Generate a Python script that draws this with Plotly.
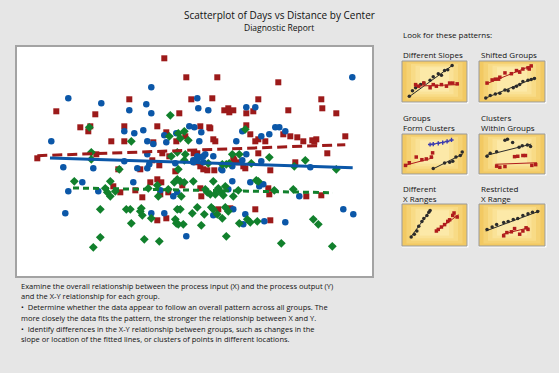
import plotly.graph_objects as go

W, H = 559, 373

# ---------------- main scatter data (Distance, Days) ----------------
blue_x = [33.53, 13.43, 5.13, 8.43, 12.93, 11.23, 13.43, 10.73, 11.73, 12.63, 17.23, 17.73, 14.73, 15.93,
          3.43, 13.03, 13.63, 14.93, 13.03, 4.63, 7.63, 10.73, 12.03, 13.03, 13.23, 15.83, 17.63, 6.53,
          5.13, 8.13, 11.63, 14.33, 15.63, 16.03, 4.83, 13.43, 14.73, 16.13, 16.93, 18.03, 18.13, 19.13,
          22.93, 23.83, 18.43, 22.53, 25.83, 26.23, 26.83, 24.43, 25.23, 21.93, 18.23, 22.93, 18.03, 18.63,
          18.83, 18.43, 19.63, 18.03, 18.63, 17.63, 20.43, 20.53, 21.53, 22.53, 24.43, 29.33, 21.53, 23.33,
          24.23, 24.63, 28.23, 21.13, 19.63, 21.63, 22.83, 22.63, 24.73, 26.83, 32.63, 33.63]
blue_y = [19.87, 18.87, 17.77, 17.27, 17.17, 16.57, 16.27, 14.47, 14.27, 14.57, 14.97, 14.87, 14.07, 14.27,
          13.47, 13.47, 13.20, 13.37, 12.17, 10.87, 10.77, 11.47, 10.77, 10.77, 11.17, 11.27, 11.37, 9.37,
          8.47, 8.47, 9.37, 8.57, 7.97, 8.37, 6.27, 6.27, 6.27, 6.67, 3.97, 17.77, 16.77, 16.57,
          16.87, 16.87, 14.37, 14.47, 14.87, 14.87, 14.47, 13.97, 14.17, 13.47, 13.47, 12.17, 11.97, 11.97,
          12.17, 11.87, 11.97, 11.67, 11.37, 11.57, 10.67, 10.57, 10.97, 11.57, 11.47, 10.87, 9.47, 9.37,
          8.97, 9.17, 7.97, 8.67, 6.07, 6.67, 6.17, 5.17, 5.47, 5.37, 6.67, 6.17]

red_x = [14.73, 16.93, 11.23, 17.43, 3.93, 7.83, 16.23, 6.33, 7.33, 7.13, 10.73, 14.03, 14.93, 16.83,
         15.93, 9.43, 10.73, 13.63, 7.93, 14.53, 15.23, 17.67, 2.03, 12.33, 13.53, 14.23, 15.83, 10.13,
         9.63, 10.33, 11.83, 12.53, 13.33, 14.03, 14.43, 14.33, 15.13, 16.53, 14.03, 14.93, 20.03, 26.13,
         19.53, 24.13, 30.43, 20.73, 21.13, 21.23, 21.63, 22.93, 23.63, 27.13, 30.53, 31.93, 18.33, 19.23,
         19.33, 22.93, 23.33, 26.63, 27.33, 28.03, 28.63, 29.53, 29.93, 29.73, 32.83, 24.13, 23.83, 24.83,
         19.63, 19.83, 31.03, 24.13, 18.03, 21.63, 17.93, 18.33, 18.63, 19.03, 19.73, 21.73, 22.13, 22.63,
         22.83, 25.33, 27.83, 25.13, 25.23, 28.93, 30.43, 18.33, 18.43, 20.13, 21.33, 23.83, 25.33]
red_y = [21.77, 19.87, 17.67, 17.67, 16.47, 16.17, 16.27, 14.87, 14.97, 14.47, 14.97, 14.97, 14.37, 13.97,
         13.47, 13.47, 13.47, 13.37, 12.17, 12.27, 11.97, 12.27, 11.77, 10.67, 11.57, 11.07, 10.47, 10.67,
         8.97, 8.37, 8.57, 7.87, 9.37, 9.67, 9.37, 8.17, 8.37, 9.07, 5.57, 5.77, 19.87, 19.37,
         17.77, 17.67, 17.67, 16.57, 16.77, 16.37, 16.57, 16.27, 16.47, 16.57, 16.77, 16.27, 14.97, 14.87,
         14.77, 15.07, 14.17, 14.17, 13.97, 13.87, 13.47, 13.57, 13.67, 13.43, 13.97, 13.67, 13.47, 13.47,
         13.67, 13.47, 12.27, 12.27, 12.27, 11.77, 11.37, 10.97, 10.67, 10.57, 10.57, 11.57, 11.37, 10.97,
         10.77, 10.57, 11.37, 8.77, 8.17, 7.97, 8.07, 8.77, 7.97, 6.67, 6.77, 6.67, 5.57]

green_x = [15.33, 7.23, 15.23, 16.13, 16.73, 16.33, 17.13, 11.43, 7.43, 7.43, 15.43, 16.03, 16.83, 16.73,
           10.23, 16.13, 5.73, 9.33, 8.83, 9.03, 9.33, 9.83, 13.13, 14.03, 14.13, 15.13, 16.43, 16.03,
           15.73, 16.33, 16.73, 17.63, 8.33, 10.93, 11.33, 12.43, 12.33, 12.53, 13.43, 16.03, 16.33, 15.83,
           15.93, 16.13, 16.63, 17.53, 11.43, 8.33, 12.73, 14.23, 7.63, 22.83, 21.53, 22.23, 25.23, 28.83,
           19.13, 20.53, 20.93, 21.23, 23.43, 27.73, 31.93, 19.63, 23.93, 24.13, 25.73, 27.63, 18.83, 19.03,
           19.33, 19.83, 20.13, 20.43, 20.63, 20.83, 21.63, 22.13, 18.03, 18.73, 19.43, 19.63, 20.03, 20.53,
           20.83, 21.13, 18.43, 23.03, 23.33, 22.23, 24.03, 20.93, 26.43, 31.53, 29.63, 30.13]
green_y = [16.07, 14.87, 13.97, 14.27, 14.47, 13.77, 13.57, 13.47, 12.37, 11.67, 11.97, 12.37, 12.17, 11.57,
           10.67, 10.67, 9.47, 9.47, 8.77, 8.37, 7.97, 8.47, 8.77, 9.07, 7.97, 8.67, 7.97, 9.67,
           9.37, 9.47, 9.37, 9.47, 6.67, 6.67, 6.67, 6.77, 6.47, 6.07, 5.77, 6.67, 6.67, 5.67,
           5.27, 5.17, 5.17, 6.27, 5.27, 3.87, 3.67, 3.47, 2.87, 14.67, 12.17, 12.17, 11.87, 11.57,
           11.27, 11.17, 11.17, 11.27, 11.27, 10.97, 10.67, 9.47, 9.57, 9.47, 8.57, 8.67, 8.67, 8.37,
           8.17, 8.17, 8.77, 8.37, 8.07, 8.97, 7.97, 8.57, 6.87, 6.17, 6.87, 6.67, 6.17, 5.77,
           6.87, 6.47, 5.07, 5.67, 5.37, 5.27, 5.47, 3.97, 3.27, 2.97, 5.67, 5.17]

# fitted lines (end points)
red_fit_x, red_fit_y = [2.03, 32.83], [12.03, 13.13]
blue_fit_x, blue_fit_y = [3.30, 33.57], [11.80, 10.83]
green_fit_x, green_fit_y = [5.60, 31.60], [8.80, 8.33]

# ---------------- thumbnail pattern data ----------------
t1_black_x = [1, 1.5, 2, 2.8, 3.3, 4.3, 4.8, 5.6, 6.1, 6.6, 7.1, 7.8]
t1_black_y = [1.2, 2.6, 3.4, 4.2, 4.6, 5.3, 6.2, 7.0, 6.6, 7.8, 8.0, 9.1]
t1_black_fx, t1_black_fy = [0.9, 7.9], [1.0, 9.2]
t1_red_x = [2, 2.5, 3.3, 4.3, 4.8, 5.3, 6.1, 6.9, 7.4, 7.9, 8.6]
t1_red_y = [4.2, 3.8, 4.6, 3.4, 4.2, 3.8, 4.2, 3.8, 4.6, 4.6, 4.4]
t1_red_fx, t1_red_fy = [1.8, 8.9], [3.8, 4.2]

t2_red_x = [1.1, 1.9, 2.4, 2.9, 3.1, 3.9, 4.9, 5.7, 6.2, 6.7, 7.5, 8.0, 7.7]
t2_red_y = [4.6, 5.4, 5.6, 5.6, 6.1, 7.2, 7.0, 7.8, 7.4, 8.2, 8.5, 9.0, 8.2]
t2_red_fx, t2_red_fy = [1.0, 8.1], [4.4, 9.1]
t2_black_x = [0.9, 1.6, 2.4, 3.1, 3.9, 4.4, 5.2, 5.7, 6.2, 6.7, 7.5, 8.0, 8.5]
t2_black_y = [0.8, 1.4, 1.8, 2.0, 2.8, 2.6, 3.4, 3.8, 4.2, 5.0, 5.3, 5.5, 5.8]
t2_black_fx, t2_black_fy = [0.8, 8.7], [0.7, 6.0]

t3_red_x = [0.4, 1.0, 2.1, 3.0, 3.7, 4.5, 4.7]
t3_red_y = [2.0, 2.7, 4.2, 3.5, 3.7, 4.2, 5.3]
t3_red_fx, t3_red_fy = [0.3, 4.8], [2.0, 4.0]
t3_black_x = [4.8, 6.6, 7.4, 7.9, 8.4, 9.1, 9.4]
t3_black_y = [1.2, 2.6, 2.8, 3.1, 4.2, 4.6, 5.5]
t3_black_fx, t3_black_fy = [4.8, 9.5], [1.1, 5.0]
t3_blue_x = [4.3, 4.8, 5.6, 6.3, 7.0, 7.7]
t3_blue_y = [7.5, 7.6, 7.8, 8.0, 8.3, 8.7]
t3_blue_fx, t3_blue_fy = [4.2, 7.8], [7.4, 8.6]

t4_black_x = [1.1, 1.6, 2.6, 3.9, 4.3, 5.1, 6.1, 6.6, 7.4, 7.9]
t4_black_y = [4.4, 5.2, 5.6, 8.6, 8.9, 8.0, 6.8, 7.2, 7.4, 7.0]
t4_black_fx, t4_black_fy = [0.9, 8.0], [4.6, 7.6]
t4_red_x = [2.6, 3.1, 3.9, 5.4, 5.9, 6.7, 7.1, 8.1, 8.7]
t4_red_y = [1.8, 1.5, 1.7, 4.3, 4.4, 4.6, 4.6, 2.0, 2.2]
t4_red_fx, t4_red_fy = [2.4, 8.9], [2.3, 2.7]

t5_black_x = [1.3, 1.8, 2.2, 2.5, 3.0, 3.3, 3.8, 4.1, 4.3]
t5_black_y = [2.0, 2.7, 3.5, 4.7, 5.9, 6.6, 7.4, 8.2, 8.6]
t5_black_fx, t5_black_fy = [1.2, 4.4], [1.9, 8.8]
t5_red_x = [5.3, 5.6, 6.1, 6.6, 7.1, 7.4, 7.9, 8.1, 8.6]
t5_red_y = [3.5, 3.9, 4.5, 5.1, 5.9, 6.3, 7.4, 8.0, 7.0]
t5_red_fx, t5_red_fy = [5.2, 8.8], [3.3, 7.6]

t6_black_x = [1.1, 1.9, 2.6, 3.7, 4.4, 5.2, 5.9, 6.7, 7.5, 8.2, 9.0]
t6_black_y = [3.9, 4.5, 5.1, 5.6, 5.9, 6.4, 6.6, 7.4, 7.8, 8.2, 8.4]
t6_black_fx, t6_black_fy = [0.9, 9.3], [3.5, 8.5]
t6_red_x = [3.7, 4.2, 4.9, 5.4, 6.2, 6.7, 7.2, 7.5]
t6_red_y = [2.3, 3.1, 3.3, 4.1, 2.7, 3.5, 4.3, 3.9]
t6_red_fx, t6_red_fy = [3.5, 7.6], [2.7, 4.3]

# ---------------- texts ----------------
title_text = "Scatterplot of Days vs Distance by Center"
subtitle_text = "Diagnostic Report"
patterns_header = "Look for these patterns:"
pattern_labels = [["Different Slopes"], ["Shifted Groups"], ["Groups", "Form Clusters"],
                  ["Clusters", "Within Groups"], ["Different", "X Ranges"], ["Restricted", "X Range"]]
body_lines = [
    "Examine the overall relationship between the process input (X) and the process output (Y)",
    "and the X-Y relationship for each group.",
    "\u2022  Determine whether the data appear to follow an overall pattern across all groups. The",
    "more closely the data fits the pattern, the stronger the relationship between X and Y.",
    "\u2022  Identify differences in the X-Y relationship between groups, such as changes in the",
    "slope or location of the fitted lines, or clusters of points in different locations.",
]

BLUE = "#0b57a8"
RED = "#9c1a1a"
GREEN = "#11802c"
FONT = "Open Sans"

def px(x):
    return x / W

def py(y):
    return 1 - y / H

fig = go.Figure()

# main scatter
fig.add_trace(go.Scatter(x=red_x, y=red_y, mode="markers",
                         marker=dict(symbol="square", size=6, color=RED), showlegend=False))
fig.add_trace(go.Scatter(x=blue_x, y=blue_y, mode="markers",
                         marker=dict(symbol="circle", size=6.5, color=BLUE), showlegend=False))
fig.add_trace(go.Scatter(x=green_x, y=green_y, mode="markers",
                         marker=dict(symbol="diamond", size=6.8, color=GREEN), showlegend=False))
fig.add_trace(go.Scatter(x=red_fit_x, y=red_fit_y, mode="lines",
                         line=dict(color=RED, width=3, dash="10px,5px"), showlegend=False))
fig.add_trace(go.Scatter(x=blue_fit_x, y=blue_fit_y, mode="lines",
                         line=dict(color=BLUE, width=3), showlegend=False))
fig.add_trace(go.Scatter(x=green_fit_x, y=green_fit_y, mode="lines",
                         line=dict(color=GREEN, width=3, dash="6px,4px"), showlegend=False))

main_x0, main_x1, main_y0, main_y1 = 17, 372, 47, 276
layout = dict(
    width=W, height=H, margin=dict(l=0, r=0, t=0, b=0),
    paper_bgcolor="#e6e6e6", plot_bgcolor="white",
    xaxis=dict(domain=[px(main_x0), px(main_x1)], range=[0, 35.5], showgrid=False, zeroline=False,
               showticklabels=False, ticks="", showline=True, mirror=True, linecolor="#a3a3a3", linewidth=2),
    yaxis=dict(domain=[py(main_y1), py(main_y0)], range=[0, 22.9], showgrid=False, zeroline=False,
               showticklabels=False, ticks="", showline=True, mirror=True, linecolor="#a3a3a3", linewidth=2),
)

# thumbnails
boxes = [(402, 61, 467, 102), (479, 61, 545, 102),
         (402, 134, 467, 174), (479, 134, 545, 174),
         (402, 204, 467, 246), (479, 204, 545, 246)]
thumb_sets = [
    [(t1_black_x, t1_black_y, t1_black_fx, t1_black_fy, "#2b2b2b", "circle"),
     (t1_red_x, t1_red_y, t1_red_fx, t1_red_fy, "#b01c1c", "square")],
    [(t2_red_x, t2_red_y, t2_red_fx, t2_red_fy, "#b01c1c", "square"),
     (t2_black_x, t2_black_y, t2_black_fx, t2_black_fy, "#2b2b2b", "circle")],
    [(t3_red_x, t3_red_y, t3_red_fx, t3_red_fy, "#b01c1c", "square"),
     (t3_black_x, t3_black_y, t3_black_fx, t3_black_fy, "#2b2b2b", "circle"),
     (t3_blue_x, t3_blue_y, t3_blue_fx, t3_blue_fy, "#3b3bb0", "cross")],
    [(t4_black_x, t4_black_y, t4_black_fx, t4_black_fy, "#2b2b2b", "circle"),
     (t4_red_x, t4_red_y, t4_red_fx, t4_red_fy, "#b01c1c", "square")],
    [(t5_black_x, t5_black_y, t5_black_fx, t5_black_fy, "#2b2b2b", "circle"),
     (t5_red_x, t5_red_y, t5_red_fx, t5_red_fy, "#b01c1c", "square")],
    [(t6_black_x, t6_black_y, t6_black_fx, t6_black_fy, "#2b2b2b", "circle"),
     (t6_red_x, t6_red_y, t6_red_fx, t6_red_fy, "#b01c1c", "square")],
]

shapes = []
grad = ["#f2c962", "#f5d274", "#f8db86", "#fae297", "#fce9a8"]
for i, (bx0, by0, bx1, by1) in enumerate(boxes):
    # white outer edge (sunken look)
    shapes.append(dict(type="rect", xref="paper", yref="paper", x0=px(bx0), x1=px(bx1 + 1.5),
                       y0=py(by1 + 1.5), y1=py(by0), fillcolor="white", line=dict(width=0), layer="below"))
    for k, c in enumerate(grad):
        ix = k * 4.5
        iy = k * 2.6
        shapes.append(dict(type="rect", xref="paper", yref="paper",
                           x0=px(bx0 + ix), x1=px(bx1 - ix), y0=py(by1 - iy), y1=py(by0 + iy * 0.6),
                           fillcolor=c, line=dict(width=0), layer="below"))
    shapes.append(dict(type="rect", xref="paper", yref="paper", x0=px(bx0), x1=px(bx1),
                       y0=py(by1), y1=py(by0), fillcolor="rgba(0,0,0,0)",
                       line=dict(color="#9a9a9a", width=1), layer="above"))
    n = i + 2
    layout[f"xaxis{n}"] = dict(domain=[px(bx0 + 1), px(bx1 - 1)], range=[0, 10], visible=False, fixedrange=True)
    layout[f"yaxis{n}"] = dict(domain=[py(by1 - 1), py(by0 + 1)], range=[0, 10], visible=False, fixedrange=True)
    for (gx, gy, fx, fy, col, sym) in thumb_sets[i]:
        fig.add_trace(go.Scatter(x=fx, y=fy, mode="lines", line=dict(color=col, width=1),
                                 xaxis=f"x{n}", yaxis=f"y{n}", showlegend=False))
        fig.add_trace(go.Scatter(x=gx, y=gy, mode="markers",
                                 marker=dict(symbol=sym, size=3.5, color=col, line=dict(width=0)),
                                 xaxis=f"x{n}", yaxis=f"y{n}", showlegend=False))

layout["shapes"] = shapes

ann = []
ann.append(dict(text=title_text, x=px(279), y=py(15), xref="paper", yref="paper", showarrow=False,
                xanchor="center", yanchor="middle", font=dict(family=FONT, size=10, color="#111")))
ann.append(dict(text=subtitle_text, x=px(279), y=py(27.5), xref="paper", yref="paper", showarrow=False,
                xanchor="center", yanchor="middle", font=dict(family=FONT, size=8.5, color="#111")))
ann.append(dict(text=patterns_header, x=px(401), y=py(35), xref="paper", yref="paper", showarrow=False,
                xanchor="left", yanchor="middle", font=dict(family=FONT, size=8, color="#111")))
label_pos = [(401, 55), (479, 55), (401, 117), (479, 117), (401, 188), (479, 188)]
for (lx, ly), lines in zip(label_pos, pattern_labels):
    for j, t in enumerate(lines):
        ann.append(dict(text=t, x=px(lx), y=py(ly + j * 10.8), xref="paper", yref="paper", showarrow=False,
                        xanchor="left", yanchor="middle", font=dict(family=FONT, size=8, color="#111")))
for j, t in enumerate(body_lines):
    ann.append(dict(text=t, x=px(19), y=py(285.7 + j * 10.7), xref="paper", yref="paper", showarrow=False,
                    xanchor="left", yanchor="middle", font=dict(family=FONT, size=7.5, color="#111")))
layout["annotations"] = ann

fig.update_layout(**layout)
fig.write_html("out.html", config={"displayModeBar": False},
               post_script="document.body.style.margin='0px';document.body.style.overflow='hidden';")
